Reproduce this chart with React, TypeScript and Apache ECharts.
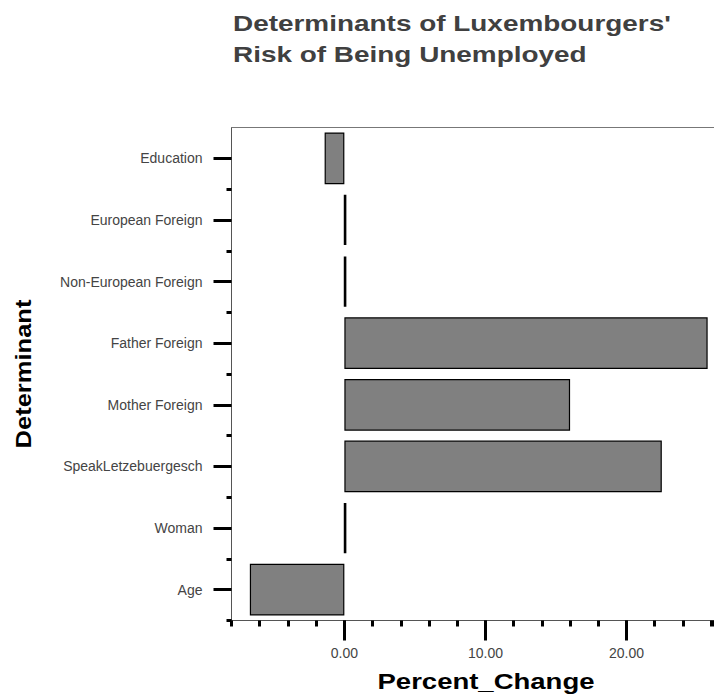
import React, { useEffect, useRef } from "react";
import * as echarts from "echarts";

const categories = [
  "Education",
  "European Foreign",
  "Non-European Foreign",
  "Father Foreign",
  "Mother Foreign",
  "SpeakLetzebuergesch",
  "Woman",
  "Age",
];
const percentChange = [-1.4, 0.1, 0.1, 25.75, 16.0, 22.5, 0.1, -6.7];
const majorTicks = [0, 10, 20];
const titleLines = ["Determinants of Luxembourgers'", "Risk of Being Unemployed"];
const xTitle = "Percent_Change";
const yTitle = "Determinant";

export default function App() {
  const ref = useRef<HTMLDivElement>(null);
  useEffect(() => {
    document.body.style.margin = "0";
    const chart = echarts.init(ref.current!, null, { renderer: "svg" });
    const font = "'Liberation Sans', Arial, sans-serif";
    const xMin = -8;
    const xMax = 26.2;
    const barData = percentChange.map((v) =>
      Math.abs(v) < 0.5
        ? { value: v, itemStyle: { borderWidth: 2.6 } }
        : v
    );
    chart.setOption({
      animation: false,
      backgroundColor: "#ffffff",
      grid: { left: 231.5, right: 0, top: 127.5, bottom: 78.5, outerBoundsMode: "none" },
      xAxis: [
        {
          type: "value",
          position: "bottom",
          min: xMin,
          max: xMax,
          interval: 2,
          axisLine: { show: true, onZero: false, lineStyle: { color: "#555", width: 1 } },
          axisTick: { show: true, length: 6, lineStyle: { color: "#000", width: 3 } },
          axisLabel: {
            customValues: majorTicks,
            formatter: (v: number) => (Math.abs(v % 10) < 1e-9 ? v.toFixed(2) : ""),
            margin: 25,
            fontSize: 14,
            color: "#444",
            fontFamily: font,
          },
          splitLine: { show: false },
        },
        {
          type: "value",
          position: "bottom",
          min: xMin,
          max: xMax,
          axisLine: { show: false, onZero: false },
          axisTick: { show: true, customValues: majorTicks, length: 20, lineStyle: { color: "#000", width: 3 } },
          axisLabel: { show: false },
          splitLine: { show: false },
        },
        {
          type: "value",
          position: "top",
          min: xMin,
          max: xMax,
          axisLine: { show: true, onZero: false, lineStyle: { color: "#777", width: 1 } },
          axisTick: { show: false },
          axisLabel: { show: false },
          splitLine: { show: false },
        },
      ],
      yAxis: [
        {
          type: "category",
          position: "left",
          data: categories,
          inverse: true,
          axisLine: { show: true, onZero: false, lineStyle: { color: "#555", width: 1 } },
          axisTick: { show: true, alignWithLabel: true, length: 18, lineStyle: { color: "#000", width: 3 } },
          axisLabel: { margin: 29, fontSize: 14, color: "#444", fontFamily: font },
        },
        {
          type: "category",
          position: "left",
          data: categories,
          inverse: true,
          axisLine: { show: false, onZero: false },
          axisTick: {
            show: true,
            length: 5,
            interval: (index: number) => index !== 0,
            lineStyle: { color: "#000", width: 3 },
          },
          axisLabel: { show: false },
        },
      ],
      series: [
        {
          type: "bar",
          xAxisIndex: 0,
          yAxisIndex: 0,
          data: barData,
          barCategoryGap: "16%",
          itemStyle: { color: "#808080", borderColor: "#000", borderWidth: 1.2 },
        },
      ],
      graphic: [
        ...titleLines.map((line, i) => ({
          type: "text",
          x: 233,
          y: 23 + i * 31.2,
          scaleX: 1.27,
          style: {
            text: line,
            fontFamily: font,
            fontSize: 22,
            fontWeight: "bold",
            fill: "#404040",
            align: "left",
            verticalAlign: "middle",
          },
        })),
        {
          type: "text",
          x: 486,
          y: 681,
          scaleX: 1.25,
          style: {
            text: xTitle,
            fontFamily: font,
            fontSize: 22,
            fontWeight: "bold",
            fill: "#000",
            align: "center",
            verticalAlign: "middle",
          },
        },
        {
          type: "text",
          x: 23,
          y: 374,
          rotation: Math.PI / 2,
          scaleX: 1.16,
          style: {
            text: yTitle,
            fontFamily: font,
            fontSize: 22,
            fontWeight: "bold",
            fill: "#000",
            align: "center",
            verticalAlign: "middle",
          },
        },
      ],
    });
    return () => chart.dispose();
  }, []);
  return <div ref={ref} style={{ width: 714, height: 699 }} />;
}
